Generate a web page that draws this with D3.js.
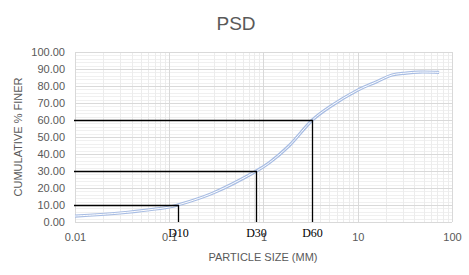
<!DOCTYPE html>
<html>
<head>
<meta charset="utf-8">
<script src="https://cdn.jsdelivr.net/npm/d3@7"></script>
<style>
  body { margin: 0; background: #fff; }
  text { font-family: "Liberation Sans", Arial, sans-serif; }
</style>
</head>
<body>
<div id="chart"></div>
<script>
// grain size (mm) and cumulative % finer
const sizes = [0.01, 0.03, 0.1, 0.123, 0.29, 0.84, 1.16, 1.88, 3.3, 5, 10, 15.7, 23.2, 32.6, 45, 73];
const finer = [3.5, 5.3, 8.8, 10, 17, 30, 35, 45, 60, 67.6, 77.6, 82.4, 86.5, 87.6, 88.2, 88];

// D-values: label, size, percent
const dLabels = ["D10", "D30", "D60"];
const dSizes = [0.123, 0.84, 3.3];
const dPercents = [10, 30, 60];

const xTicks = [0.01, 0.1, 1, 10, 100];
const yTicks = [0, 10, 20, 30, 40, 50, 60, 70, 80, 90, 100];

const W = 469, H = 275;
const svg = d3.select('#chart').append('svg')
    .attr('width', W)
    .attr('height', H);

const margin = {top: 52, right: 17, bottom: 53, left: 75};

const x = d3.scaleLog()
    .domain([0.01, 100])
    .range([margin.left, W - margin.right]);

const y = d3.scaleLinear()
    .domain([0, 100])
    .range([H - margin.bottom, margin.top]);

// minor grid
const minorX = [];
[0.01, 0.1, 1, 10].forEach(b => { for (let k = 2; k <= 9; k++) minorX.push(b * k); });
const minorY = d3.range(0, 100, 2).filter(v => v % 10 !== 0);

svg.append("g").selectAll("line")
    .data(minorY).enter().append("line")
    .attr("x1", x(0.01)).attr("x2", x(100))
    .attr("y1", d => Math.round(y(d)) + 0.5).attr("y2", d => Math.round(y(d)) + 0.5)
    .attr("stroke", "#f0f0f0");

svg.append("g").selectAll("line")
    .data(minorX).enter().append("line")
    .attr("x1", d => Math.round(x(d)) + 0.5).attr("x2", d => Math.round(x(d)) + 0.5)
    .attr("y1", y(0)).attr("y2", y(100))
    .attr("stroke", "#ececec");

// major grid
svg.append("g").selectAll("line")
    .data(yTicks).enter().append("line")
    .attr("x1", x(0.01)).attr("x2", x(100))
    .attr("y1", d => Math.round(y(d)) + 0.5).attr("y2", d => Math.round(y(d)) + 0.5)
    .attr("stroke", "#d9d9d9");

svg.append("g").selectAll("line")
    .data(xTicks).enter().append("line")
    .attr("x1", d => Math.round(x(d)) + 0.5).attr("x2", d => Math.round(x(d)) + 0.5)
    .attr("y1", y(0)).attr("y2", y(100))
    .attr("stroke", "#d9d9d9");

// axes labels (Excel style, no tick marks)
const yAxis = d3.axisLeft(y).tickValues(yTicks).tickFormat(d3.format(".2f")).tickSize(0).tickPadding(0);
svg.append("g")
    .attr("transform", `translate(${margin.left - 10}, 0)`)
    .call(yAxis)
    .call(g => g.select(".domain").remove())
    .selectAll("text")
    .style("font-family", "Liberation Sans")
    .style("font-size", "11px")
    .attr("fill", "#595959");

const xAxis = d3.axisBottom(x).tickValues(xTicks).tickFormat(d => d3.format("~g")(d)).tickSize(0).tickPadding(0);
svg.append("g")
    .attr("transform", `translate(0, ${y(0) + 11})`)
    .call(xAxis)
    .call(g => g.select(".domain").remove())
    .selectAll("text")
    .style("font-family", "Liberation Sans")
    .style("font-size", "11px")
    .attr("fill", "#595959");

// curve: double light-blue line
const line = d3.line()
    .x((d, i) => x(sizes[i]))
    .y(d => y(d))
    .curve(d3.curveCatmullRom.alpha(0.5));

svg.append("path")
    .attr("d", line(finer))
    .attr("fill", "none")
    .attr("stroke", "#a7bce3")
    .attr("stroke-width", 3.2);
svg.append("path")
    .attr("d", line(finer))
    .attr("fill", "none")
    .attr("stroke", "#ffffff")
    .attr("stroke-width", 1);

// D10 / D30 / D60 construction lines
dSizes.forEach((s, i) => {
    const px = Math.round(x(s)) + 0.5;
    const py = Math.round(y(dPercents[i])) + 0.5;
    svg.append("polyline")
        .attr("points", `${x(0.01) - 1},${py} ${px},${py} ${px},${y(0)}`)
        .attr("fill", "none")
        .attr("stroke", "#000")
        .attr("stroke-width", 1.3);
    svg.append("text")
        .attr("x", px)
        .attr("y", y(0) + 15)
        .attr("text-anchor", "middle")
        .style("font-family", "Liberation Serif")
        .style("font-size", "12px")
        .attr("fill", "#000")
        .text(dLabels[i]);
});

// title
svg.append("text")
    .attr("x", 236)
    .attr("y", 30)
    .attr("text-anchor", "middle")
    .style("font-size", "19px")
    .attr("fill", "#595959")
    .text("PSD");

// axis titles
svg.append("text")
    .attr("x", 263)
    .attr("y", 261)
    .attr("text-anchor", "middle")
    .style("font-size", "11px")
    .attr("fill", "#595959")
    .text("PARTICLE SIZE (MM)");

svg.append("text")
    .attr("transform", `translate(22, ${137}) rotate(-90)`)
    .attr("text-anchor", "middle")
    .style("font-size", "11px")
    .attr("fill", "#595959")
    .text("CUMULATIVE % FINER");
</script>
</body>
</html>
